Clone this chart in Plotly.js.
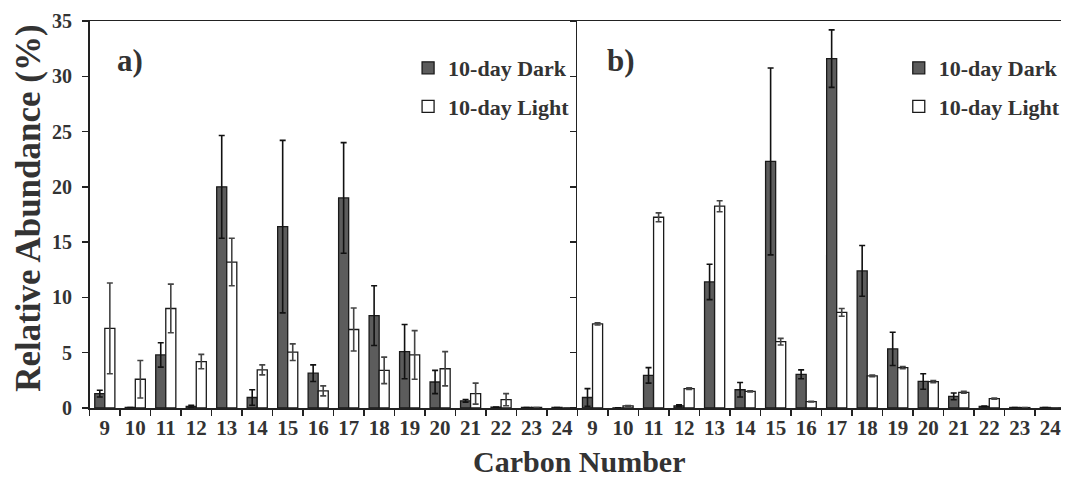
<!DOCTYPE html>
<html>
<head>
<meta charset="utf-8">
<script src="https://cdn.plot.ly/plotly-3.0.1.min.js"></script>
<style>html,body{margin:0;padding:0;background:#fff;}#chart{width:1066px;height:479px;}</style>
</head>
<body>
<div id="chart"></div>
<script>
const carbons = ["9","10","11","12","13","14","15","16","17","18","19","20","21","22","23","24"];

const aDark     = [1.3, 0.05, 4.8, 0.15, 20.0, 0.95, 16.4, 3.15, 19.0, 8.35, 5.1, 2.35, 0.65, 0.08, 0.05, 0.05];
const aDarkErr  = [0.3, 0, 1.1, 0.1, 4.65, 0.7, 7.8, 0.75, 5.0, 2.7, 2.45, 1.05, 0.12, 0, 0, 0];
const aLight    = [7.2, 2.6, 9.0, 4.2, 13.2, 3.45, 5.05, 1.55, 7.1, 3.4, 4.8, 3.55, 1.3, 0.75, 0.05, 0.02];
const aLightErr = [4.1, 1.7, 2.2, 0.65, 2.15, 0.45, 0.75, 0.45, 1.95, 1.2, 2.2, 1.55, 0.95, 0.55, 0, 0];

const bDark     = [0.95, 0.02, 2.95, 0.2, 11.4, 1.65, 22.3, 3.05, 31.6, 12.4, 5.35, 2.4, 1.05, 0.15, 0.05, 0.05];
const bDarkErr  = [0.8, 0, 0.7, 0.08, 1.6, 0.65, 8.45, 0.4, 2.6, 2.3, 1.5, 0.7, 0.3, 0.03, 0, 0];
const bLight    = [7.6, 0.2, 17.25, 1.75, 18.25, 1.5, 6.0, 0.57, 8.65, 2.9, 3.65, 2.38, 1.42, 0.84, 0.04, 0.02];
const bLightErr = [0.1, 0.03, 0.4, 0.08, 0.5, 0.05, 0.3, 0.03, 0.35, 0.08, 0.1, 0.1, 0.08, 0.05, 0, 0];

const seriesNames = ["10-day Dark", "10-day Light"];
const yTicks = [0,5,10,15,20,25,30,35];

const FONT = "Liberation Serif";
const W = 1066, H = 479;
const px = v => v / W;
const py = v => 1 - v / H;

const darkFill = "#5c5c5c";
const lightFill = "#ffffff";

function barTrace(x, y, err, name, fill, xa, ya, leg, errColor) {
  return {
    type: "bar", x: x, y: y, name: name,
    xaxis: xa, yaxis: ya, legend: leg,
    marker: { color: fill, line: { color: "#1a1a1a", width: 1.3 } },
    error_y: { type: "data", array: err, visible: true, color: errColor, thickness: 1.6, width: 3 },
    legendgroup: name + leg
  };
}

const data = [
  barTrace(carbons, aDark, aDarkErr, seriesNames[0], darkFill, "x", "y", "legend", "#111"),
  barTrace(carbons, aLight, aLightErr, seriesNames[1], lightFill, "x", "y", "legend", "#444"),
  barTrace(carbons, bDark, bDarkErr, seriesNames[0], darkFill, "x2", "y2", "legend2", "#111"),
  barTrace(carbons, bLight, bLightErr, seriesNames[1], lightFill, "x2", "y2", "legend2", "#444")
];

const tickFontX = { family: FONT, size: 21, color: "#333", weight: "bold" };
const tickFontY = { family: FONT, size: 20, color: "#333", weight: "bold" };

const xCommon = {
  type: "category", tickson: "boundaries", ticks: "outside", ticklen: 6, tickwidth: 1.5, tickcolor: "#222",
  showline: true, linecolor: "#222", linewidth: 1.5, mirror: true, showgrid: false, zeroline: false,
  tickfont: tickFontX, tickangle: 0, fixedrange: true
};
const yCommon = {
  range: [0, 35], tickvals: yTicks, ticks: "outside", ticklen: 6, tickwidth: 1.5, tickcolor: "#222",
  showline: true, linecolor: "#222", linewidth: 1.5, showgrid: false, zeroline: false,
  domain: [py(408), py(21)], tickfont: tickFontY, fixedrange: true
};

const legendCommon = {
  font: { family: FONT, size: 22, color: "#333", weight: "bold" },
  bgcolor: "rgba(0,0,0,0)", borderwidth: 0, xanchor: "left", yanchor: "top",
  tracegroupgap: 7, traceorder: "grouped", itemwidth: 30
};

const layout = {
  width: W, height: H,
  margin: { l: 0, r: 0, t: 0, b: 0 },
  paper_bgcolor: "#fff", plot_bgcolor: "#fff",
  barmode: "group", bargap: 0.34, bargroupgap: 0,
  showlegend: true,
  xaxis: Object.assign({}, xCommon, { domain: [px(90), px(580)], range: [-0.5, 15.5], anchor: "y" }),
  xaxis2: Object.assign({}, xCommon, { domain: [px(580), 1], range: [-0.5, 15.35], anchor: "y2" }),
  yaxis: Object.assign({}, yCommon, { anchor: "x", ticklabelstandoff: 6 }),
  yaxis2: Object.assign({}, yCommon, { anchor: "x2", showticklabels: false }),
  legend: Object.assign({}, legendCommon, { x: px(410), y: py(47) }),
  legend2: Object.assign({}, legendCommon, { x: px(903), y: py(47) }),
  annotations: [
    { text: "a)", xref: "paper", yref: "paper", x: px(116), y: py(60), xanchor: "left", yanchor: "middle", showarrow: false,
      font: { family: FONT, size: 31, color: "#333", weight: "bold" } },
    { text: "b)", xref: "paper", yref: "paper", x: px(608), y: py(60), xanchor: "left", yanchor: "middle", showarrow: false,
      font: { family: FONT, size: 31, color: "#333", weight: "bold" } },
    { text: "Carbon Number", xref: "paper", yref: "paper", x: px(582), y: py(461), xanchor: "center", yanchor: "middle", showarrow: false,
      font: { family: FONT, size: 30, color: "#333", weight: "bold" } },
    { text: "Relative Abundance (%)", xref: "paper", yref: "paper", x: px(28), y: py(208), xanchor: "center", yanchor: "middle", showarrow: false,
      textangle: -90, font: { family: FONT, size: 35, color: "#333", weight: "bold" } }
  ]
};

Plotly.newPlot("chart", data, layout, { displayModeBar: false, staticPlot: true });
</script>
</body>
</html>
